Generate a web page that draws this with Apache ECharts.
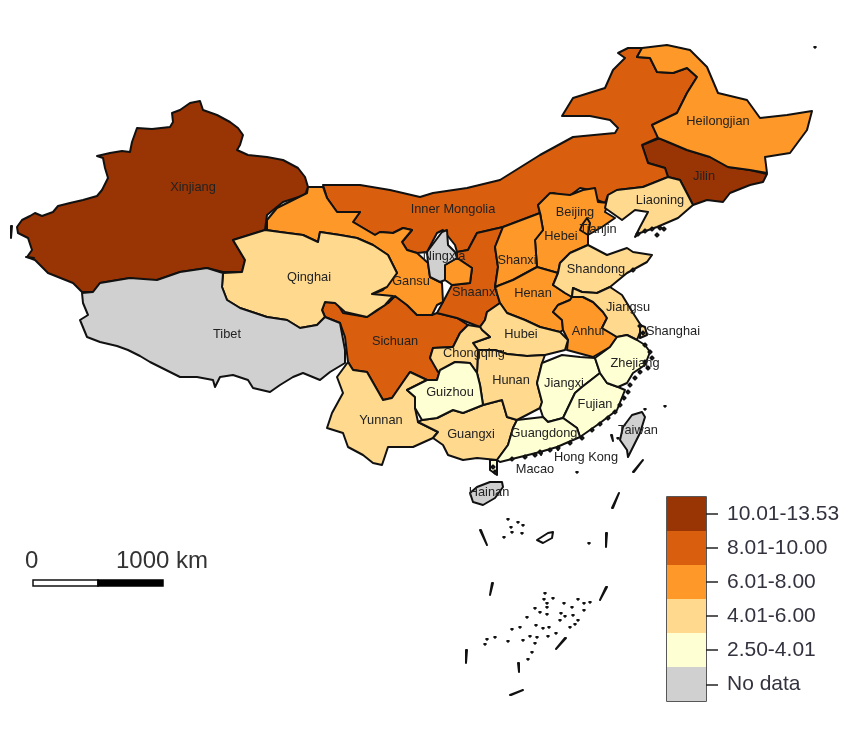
<!DOCTYPE html>
<html>
<head>
<meta charset="utf-8">
<title>China map</title>
<script src="https://cdn.jsdelivr.net/npm/echarts@6/dist/echarts.min.js"></script>
<style>
  html, body { margin: 0; padding: 0; background: #fff; }
  #chart { width: 849px; height: 733px; }
</style>
</head>
<body>
<div id="chart"></div>
<script>
const provinces = ['Xinjiang','Jilin','Beijing','Inner Mongolia','Sichuan','Shaanxi','Heilongjian','Gansu','Hebei','Shanxi','Henan','Anhui','Tianjin','Qinghai','Yunnan','Guangxi','Hubei','Hunan','Chongqing','Shandong','Liaoning','Jiangsu','Shanghai','Guizhou','Jiangxi','Fujian','Guangdong','Zhejiang','Tibet','Ningxia','Taiwan','Hainan','Hong Kong','Macao'];
const rates = [11.8,10.9,10.6,9.1,8.6,8.9,7.2,6.8,7.0,7.4,7.6,6.9,6.5,5.2,5.0,4.8,5.1,4.9,4.6,5.4,5.3,4.7,4.5,3.4,3.1,2.9,3.3,3.6,0,0,0,0,0,0];

const legendLabels = ['No data','2.50-4.01','4.01-6.00','6.01-8.00','8.01-10.00','10.01-13.53'];
const legendMax = [0,4.01,6.00,8.00,10.00,13.53];
const legendColors = ['#d0d0d0','#ffffd4','#fed98e','#fe9929','#d95f0e','#993404'];

// province outlines (x, y down)
const outlines = {
  'Xinjiang': [[[17,227],[22,220],[30,216],[35,213],[42,216],[53,212],[58,206],[70,203],[83,200],[97,196],[102,190],[108,178],[105,168],[103,158],[97,156],[110,153],[122,151],[130,152],[132,142],[137,128],[152,129],[170,127],[173,122],[172,113],[180,110],[190,103],[200,101],[203,110],[217,115],[230,122],[238,128],[243,135],[240,145],[237,150],[248,155],[267,157],[283,160],[298,168],[305,177],[308,187],[305,195],[283,202],[267,215],[265,230],[233,240],[245,260],[242,272],[223,272],[207,268],[180,272],[157,280],[140,280],[130,278],[100,283],[93,292],[82,292],[73,283],[48,273],[35,260],[27,257],[32,250],[28,238],[18,233]]],
  'Tibet': [[[82,293],[93,292],[100,283],[130,278],[157,280],[180,272],[207,268],[223,273],[222,287],[227,300],[240,308],[267,317],[287,320],[300,328],[317,325],[325,317],[340,323],[345,350],[345,363],[330,372],[320,380],[303,373],[293,377],[280,385],[270,392],[253,388],[248,380],[233,375],[220,377],[215,387],[213,380],[197,377],[180,377],[170,372],[160,367],[150,362],[140,356],[128,350],[117,346],[100,342],[87,337],[80,320],[88,315],[83,303]]],
  'Qinghai': [[[233,240],[265,230],[280,232],[303,235],[318,242],[320,232],[340,235],[357,238],[373,245],[388,255],[397,273],[387,287],[372,294],[393,296],[385,305],[377,310],[367,317],[345,312],[335,303],[325,302],[322,310],[325,317],[317,325],[300,328],[287,320],[267,317],[240,308],[227,300],[222,287],[223,273],[242,272],[245,260]]],
  'Gansu': [[[267,220],[267,230],[280,232],[303,235],[318,242],[320,232],[340,235],[357,238],[373,245],[388,255],[397,273],[388,283],[383,290],[370,295],[373,302],[388,303],[395,296],[407,305],[417,315],[432,315],[437,305],[443,302],[442,283],[430,277],[428,263],[417,253],[407,250],[402,242],[412,230],[403,228],[393,233],[380,232],[375,235],[353,222],[360,212],[337,212],[327,198],[323,187],[308,187],[307,193],[277,208]],[[445,265],[457,258],[472,268],[470,283],[452,285],[445,280]]],
  'Inner Mongolia': [[[323,185],[360,185],[390,190],[420,197],[433,193],[467,188],[500,180],[540,155],[573,137],[615,133],[618,128],[610,120],[590,116],[562,116],[573,98],[605,88],[613,70],[625,58],[618,53],[628,48],[642,48],[637,57],[650,58],[657,72],[673,73],[687,68],[697,77],[687,93],[677,113],[652,125],[660,137],[642,145],[648,163],[665,168],[668,177],[643,187],[617,190],[608,195],[605,203],[597,200],[590,190],[580,188],[568,197],[553,193],[538,205],[540,213],[503,227],[477,233],[468,250],[457,252],[455,245],[443,230],[437,233],[427,252],[417,253],[407,250],[402,242],[412,230],[403,228],[393,233],[380,232],[375,235],[353,222],[360,212],[337,212],[327,198]]],
  'Heilongjian': [[[642,48],[667,45],[690,50],[707,67],[718,93],[747,100],[760,118],[787,115],[812,111],[807,130],[790,153],[765,157],[767,173],[750,170],[728,167],[710,157],[687,150],[668,142],[658,138],[652,125],[677,113],[687,93],[697,77],[687,68],[673,73],[657,72],[650,58],[637,57]]],
  'Jilin': [[[642,145],[660,138],[668,142],[687,150],[710,157],[728,167],[750,170],[767,174],[763,182],[750,185],[730,193],[723,202],[707,200],[693,205],[680,180],[668,177],[665,168],[648,163]]],
  'Liaoning': [[[668,177],[680,180],[693,205],[678,218],[657,227],[640,233],[635,237],[640,227],[648,212],[635,210],[622,220],[605,208],[608,195],[617,190],[643,187]]],
  'Hebei': [[[550,193],[570,195],[583,190],[595,188],[598,202],[608,203],[605,212],[615,218],[602,227],[588,235],[588,245],[570,253],[560,263],[558,273],[537,267],[535,240],[543,230],[540,213],[538,205]]],
  'Beijing': [[[560,220],[567,213],[577,213],[585,218],[582,225],[570,227],[563,227]]],
  'Tianjin': [[[587,218],[590,223],[588,235],[580,230],[582,225]]],
  'Shanxi': [[[540,213],[543,230],[535,240],[537,267],[513,280],[495,287],[498,267],[495,247],[503,227]]],
  'Shaanxi': [[[503,227],[495,247],[498,267],[495,287],[500,303],[487,312],[485,320],[480,327],[467,322],[457,318],[437,313],[443,302],[452,285],[470,283],[472,268],[457,258],[457,252],[468,250],[477,233]]],
  'Ningxia': [[[427,252],[442,232],[447,230],[448,245],[455,252],[457,258],[445,265],[445,280],[440,282],[430,277],[428,263]]],
  'Sichuan': [[[325,302],[337,303],[343,313],[367,317],[375,312],[388,303],[395,296],[407,305],[417,315],[432,315],[437,313],[457,318],[468,325],[460,333],[453,347],[433,348],[430,358],[440,370],[437,380],[427,380],[410,372],[403,382],[392,398],[383,400],[367,372],[353,370],[348,362],[345,337],[340,323],[325,317],[322,310]]],
  'Chongqing': [[[433,348],[453,347],[460,333],[468,325],[480,327],[482,330],[490,337],[473,343],[478,350],[477,373],[470,363],[455,362],[438,372],[430,358]]],
  'Hubei': [[[487,312],[500,303],[507,313],[525,320],[540,327],[560,332],[568,340],[565,350],[545,355],[527,356],[507,354],[495,350],[478,350],[473,343],[490,337],[482,330],[480,327],[485,320]]],
  'Henan': [[[537,267],[558,273],[553,285],[565,293],[572,297],[570,300],[558,305],[553,312],[562,320],[563,330],[560,332],[540,327],[525,320],[507,313],[500,303],[495,287],[513,280]]],
  'Shandong': [[[560,263],[570,253],[588,245],[607,255],[627,248],[633,252],[652,255],[647,262],[627,273],[610,287],[597,293],[582,292],[573,288],[572,297],[565,293],[553,285],[558,273]]],
  'Jiangsu': [[[572,297],[573,288],[582,292],[597,293],[610,287],[622,295],[633,313],[642,327],[637,340],[627,335],[617,337],[602,328],[607,318],[603,312],[593,302],[583,297]]],
  'Anhui': [[[570,300],[572,297],[583,297],[593,302],[603,312],[607,318],[602,328],[617,337],[610,347],[593,357],[567,350],[568,340],[563,330],[562,320],[553,312],[558,305]]],
  'Shanghai': [[[640,325],[645,327],[647,335],[640,338]]],
  'Zhejiang': [[[610,347],[617,337],[627,335],[637,340],[645,345],[650,352],[645,365],[633,373],[627,383],[618,387],[607,383],[600,373],[595,358]]],
  'Fujian': [[[600,373],[607,383],[618,387],[625,390],[617,410],[600,423],[580,437],[577,428],[563,418],[575,393],[582,387]]],
  'Jiangxi': [[[542,363],[562,355],[580,357],[595,358],[600,373],[582,387],[575,393],[563,418],[548,422],[543,417],[540,408],[542,402],[537,383]]],
  'Hunan': [[[478,350],[495,350],[507,354],[527,356],[545,355],[542,363],[537,383],[542,402],[540,408],[517,420],[507,417],[502,400],[483,405],[480,385],[477,373]]],
  'Guizhou': [[[407,390],[427,380],[437,380],[440,370],[455,362],[470,363],[477,373],[480,385],[483,405],[463,413],[453,410],[437,418],[422,420],[415,408],[415,397]]],
  'Yunnan': [[[348,362],[353,370],[367,372],[383,400],[392,398],[403,382],[410,372],[427,380],[407,390],[415,397],[415,408],[418,422],[438,432],[433,438],[413,447],[388,447],[382,465],[373,463],[363,455],[348,447],[343,433],[327,428],[332,413],[343,393],[337,377]]],
  'Guangxi': [[[418,422],[422,420],[437,418],[453,410],[463,413],[483,405],[502,400],[507,417],[517,420],[513,428],[508,445],[497,460],[477,458],[463,460],[448,455],[443,445],[433,438],[438,432]]],
  'Guangdong': [[[517,420],[543,417],[548,422],[563,418],[577,428],[580,437],[557,447],[540,452],[520,457],[500,462],[497,460],[508,445],[513,428]],[[490,460],[497,460],[497,475],[490,470]]],
  'Hainan': [[[470,493],[477,487],[490,482],[502,482],[503,487],[495,498],[483,505],[473,502]]],
  'Taiwan': [[[632,415],[642,412],[645,417],[640,433],[633,447],[628,457],[627,450],[620,440],[623,427]]],
  'Hong Kong': [[[557,447],[559,448],[558,450]]],
  'Macao': [[[540,452],[542,453],[541,455]]]
};

// nine-dash line, reef ring and other islands
const dashes = [[[612,508],[619,493]],[[480,530],[487,545]],[[606,533],[606,547]],[[492,583],[490,595]],[[606,587],[600,600]],[[565,638],[556,649]],[[466,650],[466,663]],[[518,663],[519,672]],[[510,695],[523,690]],[[633,472],[643,460]],[[611,435],[613,441]],[[26,257],[34,258]],[[11,226],[11,238]]];
const ring = [[537,540],[548,533],[553,532],[552,538],[543,543]];
const reefDots = [[508,519],[518,522],[511,527],[512,532],[522,533],[504,537],[523,525],[589,543],[545,593],[544,599],[553,598],[547,603],[547,607],[540,612],[547,614],[535,608],[564,603],[578,599],[584,603],[590,602],[561,613],[565,616],[573,615],[578,620],[584,610],[560,620],[572,607],[527,617],[520,627],[536,625],[543,628],[549,627],[512,629],[530,636],[537,637],[548,636],[556,633],[495,637],[485,644],[508,641],[535,643],[523,640],[532,652],[528,659],[575,624],[570,627],[487,639],[815,47],[577,472],[665,406],[645,409],[618,438]];
const coastDots = [[645,345],[650,352],[652,358],[645,362],[648,368],[640,372],[635,378],[630,385],[628,392],[624,398],[620,405],[615,412],[608,418],[600,424],[592,430],[582,438],[570,443],[558,448],[550,450],[540,452],[535,455],[525,457],[512,459],[638,234],[645,231],[652,229],[660,228],[657,235],[664,229],[640,326],[643,333],[633,270],[493,467],[495,472]];

// label anchors
const labelAt = {'Xinjiang':[193,187],'Inner Mongolia':[453,209],'Heilongjian':[718,121],'Jilin':[704,176],'Liaoning':[660,200],'Qinghai':[309,277],'Tibet':[227,334],'Gansu':[411,281],'Ningxia':[444,256],'Shaanxi':[475,292],'Shanxi':[517,260],'Beijing':[575,212],'Hebei':[561,236],'Tianjin':[598,229],'Shandong':[596,269],'Henan':[533,293],'Jiangsu':[628,307],'Anhui':[588,331],'Shanghai':[673,331],'Hubei':[521,334],'Sichuan':[395,341],'Chongqing':[474,353],'Guizhou':[450,392],'Hunan':[511,380],'Jiangxi':[564,383],'Fujian':[595,404],'Zhejiang':[635,363],'Yunnan':[381,420],'Guangxi':[471,434],'Guangdong':[544,433],'Hong Kong':[586,457],'Macao':[535,469],'Taiwan':[638,430],'Hainan':[489,492]};

const H = 733;
const flip = p => [p[0], H - p[1]];
const blob = (d, r) => [[flip([d[0] - r, d[1]]), flip([d[0], d[1] - r]), flip([d[0] + r, d[1]]), flip([d[0], d[1] + r])]];

function buildGeo() {
  const features = provinces.map(name => ({
    type: 'Feature',
    properties: { name, cp: flip(labelAt[name]) },
    geometry: { type: 'MultiPolygon', coordinates: outlines[name].map(r => [r.map(flip)]) }
  }));
  const bits = [];
  dashes.forEach(d => bits.push([[flip(d[0]), flip(d[1]), flip([d[1][0] + 1, d[1][1]]), flip([d[0][0] + 1, d[0][1]])]]));
  bits.push([ring.map(flip)]);
  reefDots.forEach(d => bits.push(blob(d, 0.8)));
  coastDots.forEach(d => bits.push(blob(d, 1.6)));
  features.push({
    type: 'Feature',
    properties: { name: 'islands' },
    geometry: { type: 'MultiPolygon', coordinates: bits }
  });
  return { type: 'FeatureCollection', features };
}

// not named 'china': echarts would patch its own South China Sea box into that name
echarts.registerMap('provinces', buildGeo());

const chart = echarts.init(document.getElementById('chart'));

const pieces = legendLabels.map((label, i) => ({
  gt: i === 0 ? -1 : legendMax[i - 1],
  lte: legendMax[i],
  label,
  color: legendColors[i]
}));

const ticks = [514, 548, 582, 616, 650, 685].map(y => ({
  type: 'line',
  shape: { x1: 706, y1: y, x2: 718, y2: y },
  style: { stroke: '#222', lineWidth: 1.5 }
}));

chart.setOption({
  animation: false,
  backgroundColor: '#fff',
  visualMap: {
    type: 'piecewise',
    seriesIndex: 0,
    pieces,
    left: 667,
    top: 497,
    itemWidth: 39,
    itemHeight: 34,
    itemGap: 0,
    textGap: 21,
    align: 'left',
    padding: 0,
    itemSymbol: 'rect',
    hoverLink: false,
    textStyle: { fontFamily: 'Liberation Sans', fontSize: 21, color: '#33333f' }
  },
  series: [{
    type: 'map',
    map: 'provinces',
    left: 0,
    top: 0,
    width: 849,
    height: 733,
    aspectScale: 1,
    boundingCoords: [[0, H], [849, 0]],
    roam: false,
    selectedMode: false,
    silent: true,
    label: { show: false },
    itemStyle: { areaColor: '#fff', borderColor: '#111', borderWidth: 2, borderJoin: 'round' },
    data: provinces.map((name, i) => ({
      name,
      value: rates[i],
      label: { show: true, fontFamily: 'Liberation Sans', fontSize: 12.8, color: '#222' }
    }))
  }],
  graphic: [
    { type: 'rect', shape: { x: 667, y: 497, width: 39, height: 204 }, style: { fill: 'none', stroke: '#222', lineWidth: 1.5 } },
    ...ticks,
    { type: 'text', style: { x: 25, y: 561, text: '0', fill: '#333', font: '24px "Liberation Sans"', verticalAlign: 'middle' } },
    { type: 'text', style: { x: 116, y: 561, text: '1000 km', fill: '#333', font: '24px "Liberation Sans"', verticalAlign: 'middle' } },
    { type: 'rect', shape: { x: 33, y: 580, width: 65, height: 6 }, style: { fill: '#fff', stroke: '#111', lineWidth: 1.5 } },
    { type: 'rect', shape: { x: 98, y: 580, width: 65, height: 6 }, style: { fill: '#000', stroke: '#000', lineWidth: 1.5 } }
  ]
});
</script>
</body>
</html>
